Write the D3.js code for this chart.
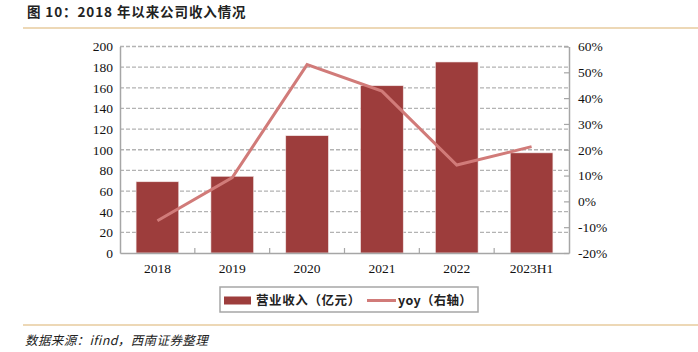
<!DOCTYPE html>
<html><head><meta charset="utf-8">
<script src="https://cdn.jsdelivr.net/npm/d3@7/dist/d3.min.js"></script>
<style>body{margin:0;background:#fff}svg{display:block}</style>
</head><body>
<svg id="c" width="698" height="352"></svg>
<script>
const categories = ["2018","2019","2020","2021","2022","2023H1"];
const revenue = [69, 74.3, 113.6, 162, 185, 97];
const yoy = [-7.5, 9.2, 53, 42.7, 14.1, 21.2];
const leftTicks = [0,20,40,60,80,100,120,140,160,180,200];
const rightTicks = [-20,-10,0,10,20,30,40,50,60];
const title = "图 10：2018 年以来公司收入情况";
const source = "数据来源：ifind，西南证券整理";
const legendLabels = ["营业收入（亿元）","yoy（右轴）"];

const svg = d3.select("#c");
const L = 120, R = 569, T = 46.5, B = 253;
const x = d3.scaleBand().domain(categories).range([L, R]).paddingInner(0.43).paddingOuter(0.215);
const xb = d3.scaleBand().domain(categories).range([L, R]);
const yL = d3.scaleLinear().domain([0,200]).range([B, T]);
const yR = d3.scaleLinear().domain([-20,60]).range([B, T]);
const axisCol = "#a6a6a6";
const serif = "'Liberation Serif','Times New Roman',serif";
const cjk = "'Noto Sans CJK SC','Noto Sans',sans-serif";

// title
svg.append("text").attr("x",27).attr("y",17).attr("font-family",cjk).attr("font-weight","bold")
  .attr("font-size",13.5).attr("letter-spacing",0.9).attr("fill","#222").text(title);
svg.append("line").attr("x1",23).attr("x2",698).attr("y1",28).attr("y2",28).attr("stroke","#dcb16f").attr("stroke-width",1.2);

// gridlines
svg.append("g").selectAll("line").data(leftTicks.filter(d=>d>0)).join("line")
  .attr("x1",L).attr("x2",R).attr("y1",d=>yL(d)).attr("y2",d=>yL(d))
  .attr("stroke","#b3b3b3").attr("stroke-width",1.3).attr("stroke-dasharray","4,2");

// bars
svg.append("g").selectAll("rect").data(revenue).join("rect")
  .attr("x",(d,i)=>x(categories[i])).attr("width",x.bandwidth())
  .attr("y",d=>yL(d)).attr("height",d=>B-yL(d))
  .attr("fill","#9d3d3c").attr("stroke","#f2e6e6").attr("stroke-width",0.6);

// line
svg.append("path").datum(yoy)
  .attr("d", d3.line().x((d,i)=>xb(categories[i])+xb.bandwidth()/2).y(d=>yR(d)))
  .attr("fill","none").attr("stroke","#d17b79").attr("stroke-width",3);

// left axis
const gl = svg.append("g").attr("transform",`translate(${L},0)`)
  .call(d3.axisLeft(yL).tickValues(leftTicks).tickSize(0).tickPadding(7));
gl.select(".domain").attr("stroke",axisCol).attr("stroke-width",1.5);
gl.selectAll("text").attr("font-family",serif).attr("font-size",13.5).attr("fill","#111");

// right axis
const gr = svg.append("g").attr("transform",`translate(${R},0)`)
  .call(d3.axisRight(yR).tickValues(rightTicks).tickFormat(d=>d+"%").tickSizeInner(-5).tickSizeOuter(0).tickPadding(9));
gr.select(".domain").attr("stroke",axisCol).attr("stroke-width",1.5);
gr.selectAll(".tick line").attr("stroke",axisCol).attr("stroke-width",1.2);
gr.selectAll("text").attr("font-family",serif).attr("font-size",13.5).attr("fill","#111");

// bottom axis
const gb = svg.append("g").attr("transform",`translate(0,${B})`)
  .call(d3.axisBottom(x).tickSize(0).tickPadding(10));
gb.select(".domain").attr("stroke",axisCol).attr("stroke-width",1.5);
gb.selectAll("text").attr("font-family",serif).attr("font-size",13.5).attr("fill","#111");
svg.append("g").selectAll("line").data(categories.slice(1)).join("line")
  .attr("x1",d=>xb(d)).attr("x2",d=>xb(d)).attr("y1",B).attr("y2",B-5)
  .attr("stroke",axisCol).attr("stroke-width",1.2);

// legend
const lg = svg.append("g");
lg.append("rect").attr("x",220).attr("y",287).attr("width",258).attr("height",25)
  .attr("fill","#fff").attr("stroke","#a6a6a6").attr("stroke-width",1.5);
lg.append("rect").attr("x",224).attr("y",296.5).attr("width",27).attr("height",8).attr("fill","#9d3d3c");
lg.append("text").attr("x",256).attr("y",305).attr("font-family",cjk).attr("font-weight","bold")
  .attr("font-size",12.5).attr("letter-spacing",0.6).attr("fill","#222").text(legendLabels[0]);
lg.append("line").attr("x1",367).attr("x2",396).attr("y1",300.5).attr("y2",300.5).attr("stroke","#d17b79").attr("stroke-width",3);
lg.append("text").attr("x",398).attr("y",305).attr("font-family",cjk).attr("font-weight","bold")
  .attr("font-size",12.5).attr("letter-spacing",0.3).attr("fill","#222").text(legendLabels[1]);

// footer
svg.append("line").attr("x1",23).attr("x2",698).attr("y1",325).attr("y2",325).attr("stroke","#dcb16f").attr("stroke-width",1.2);
svg.append("text").attr("x",25).attr("y",345).attr("font-family",cjk).attr("font-style","italic")
  .attr("font-size",12.5).attr("letter-spacing",0.4).attr("fill","#222").text(source);
</script>
</body></html>
